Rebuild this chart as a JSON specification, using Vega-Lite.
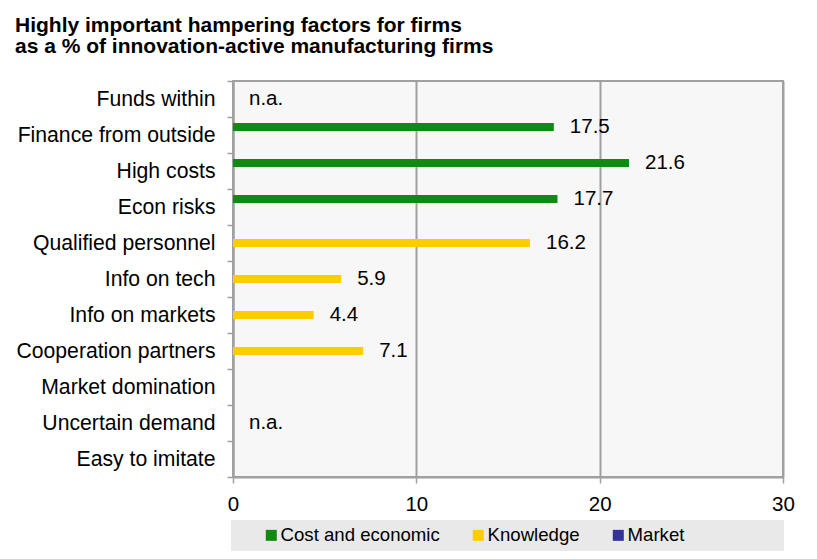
{
  "$schema": "https://vega.github.io/schema/vega-lite/v6.json",
  "width": 550,
  "height": 396,
  "autosize": {"type": "none"},
  "padding": {"left": 233, "top": 81, "right": 34, "bottom": 82},
  "background": "white",
  "title": {
    "text": ["Highly important hampering factors for firms", "as a % of innovation-active manufacturing firms"],
    "anchor": "start",
    "frame": "group",
    "dx": -218,
    "dy": 32,
    "offset": 24,
    "baseline": "bottom",
    "font": "Liberation Sans",
    "fontSize": 21,
    "fontWeight": "bold",
    "lineHeight": 21,
    "color": "black"
  },
  "config": {
    "view": {"fill": "#f7f7f7", "stroke": "#a0a0a0", "strokeWidth": 2},
    "text": {"font": "Liberation Sans"},
    "axis": {"labelFont": "Liberation Sans", "labelColor": "black"},
    "legend": {"labelFont": "Liberation Sans", "titleFont": "Liberation Sans"}
  },
  "data": {
    "values": [
      {"factor": "Funds within", "group": "Cost and economic", "value": null, "note": "n.a."},
      {"factor": "Finance from outside", "group": "Cost and economic", "value": 17.5, "note": ""},
      {"factor": "High costs", "group": "Cost and economic", "value": 21.6, "note": ""},
      {"factor": "Econ risks", "group": "Cost and economic", "value": 17.7, "note": ""},
      {"factor": "Qualified personnel", "group": "Knowledge", "value": 16.2, "note": ""},
      {"factor": "Info on tech", "group": "Knowledge", "value": 5.9, "note": ""},
      {"factor": "Info on markets ", "group": "Knowledge", "value": 4.4, "note": ""},
      {"factor": "Cooperation partners", "group": "Knowledge", "value": 7.1, "note": ""},
      {"factor": "Market domination", "group": "Market", "value": null, "note": ""},
      {"factor": "Uncertain demand", "group": "Market", "value": null, "note": "n.a."},
      {"factor": "Easy to imitate", "group": "Market", "value": null, "note": ""}
    ]
  },
  "encoding": {
    "y": {
      "field": "factor",
      "type": "nominal",
      "scale": {
        "domain": ["Funds within", "Finance from outside", "High costs", "Econ risks", "Qualified personnel", "Info on tech", "Info on markets ", "Cooperation partners", "Market domination", "Uncertain demand", "Easy to imitate"],
        "paddingInner": 0,
        "paddingOuter": 0
      },
      "axis": {
        "title": null,
        "tickBand": "extent",
        "tickSize": 6,
        "tickColor": "#a0a0a0",
        "tickWidth": 1.5,
        "domainColor": "#a0a0a0",
        "domainWidth": 2,
        "labelPadding": 12,
        "labelFontSize": 21.2,
        "labelLimit": 300,
        "grid": false
      }
    }
  },
  "layer": [
    {
      "transform": [{"filter": "isValid(datum.value)"}],
      "mark": {"type": "bar"},
      "encoding": {
        "x": {
          "field": "value",
          "type": "quantitative",
          "scale": {"domain": [0, 30]},
          "axis": {
            "title": null,
            "values": [0, 10, 20, 30],
            "grid": true,
            "gridColor": "#a0a0a0",
            "gridWidth": 2,
            "domainColor": "#a0a0a0",
            "domainWidth": 2,
            "tickColor": "#a0a0a0",
            "tickWidth": 1.5,
            "tickSize": 6,
            "labelFontSize": 20.5,
            "labelPadding": 11,
            "labelFlush": false
          }
        },
        "yOffset": {
          "field": "group",
          "type": "nominal",
          "scale": {"domain": ["Cost and economic", "Knowledge", "Market"], "paddingInner": 0, "paddingOuter": 0.75}
        },
        "color": {
          "field": "group",
          "type": "nominal",
          "scale": {"domain": ["Cost and economic", "Knowledge", "Market"], "range": ["#118a11", "#ffcc00", "#333399"]},
          "legend": {
            "orient": "none",
            "legendX": -2,
            "legendY": 439,
            "direction": "horizontal",
            "fillColor": "#e9e9e9",
            "padding": 6,
            "symbolType": "square",
            "symbolSize": 121,
            "symbolStrokeWidth": 0,
            "symbolOffset": 25,
            "labelFontSize": 18.6,
            "labelColor": "black",
            "labelOffset": 0,
            "labelLimit": 400,
            "columnPadding": 4,
            "title": "\u00a0",
            "titleOrient": "right",
            "titlePadding": 94,
            "titleFontSize": 10
          }
        }
      }
    },
    {
      "transform": [{"filter": "isValid(datum.value)"}],
      "mark": {"type": "text", "align": "left", "baseline": "middle", "dx": 16, "fontSize": 20.5, "color": "black"},
      "encoding": {
        "x": {"field": "value", "type": "quantitative"},
        "yOffset": {"field": "group", "type": "nominal"},
        "text": {"field": "value", "type": "quantitative", "format": ".1f"}
      }
    },
    {
      "transform": [{"filter": "datum.note == 'n.a.'"}],
      "mark": {"type": "text", "align": "left", "baseline": "middle", "dx": 16, "fontSize": 20.5, "color": "black"},
      "encoding": {
        "x": {"datum": 0, "type": "quantitative"},
        "text": {"field": "note"}
      }
    }
  ]
}
